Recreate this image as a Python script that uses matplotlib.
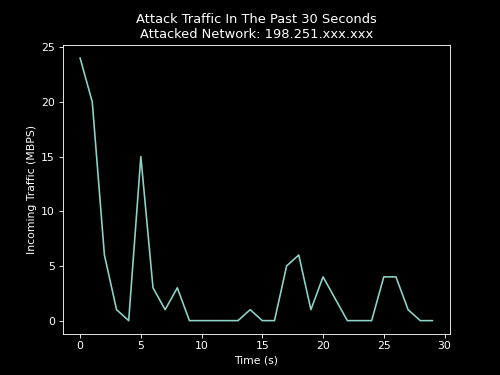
import matplotlib
matplotlib.use('Agg')
import matplotlib.pyplot as plt

seconds = list(range(30))
traffic = [24, 20, 6, 1, 0, 15, 3, 1, 3, 0,
           0, 0, 0, 0, 1, 0, 0, 5, 6, 1,
           4, 2, 0, 0, 0, 4, 4, 1, 0, 0]
network = '198.251.xxx.xxx'

plt.style.use('dark_background')
fig, ax = plt.subplots(figsize=(6.4, 4.8), dpi=78.125)
ax.plot(seconds, traffic)
ax.set_title(f'Attack Traffic In The Past 30 Seconds\nAttacked Network: {network}')
ax.set_xlabel('Time (s)')
ax.set_ylabel('Incoming Traffic (MBPS)')
fig.savefig('out.png')
